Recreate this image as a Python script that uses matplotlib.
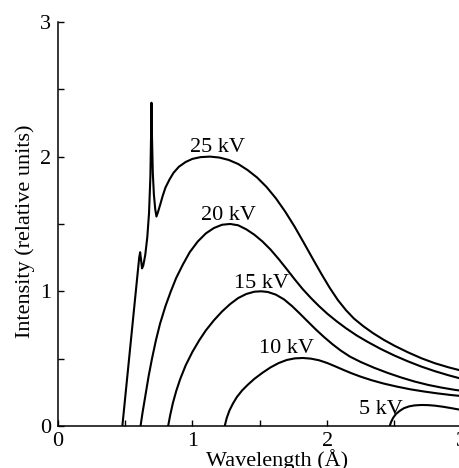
import matplotlib
matplotlib.use("Agg")
import matplotlib.pyplot as plt
from matplotlib.ticker import MultipleLocator

plt.rcParams['font.family'] = ['Liberation Serif', 'DejaVu Serif']

# ---- data ----
x25 = [0.48, 0.50, 0.53, 0.56, 0.59, 0.605, 0.612, 0.618, 0.626, 0.635, 0.65, 0.665,
       0.678, 0.688, 0.693, 0.696, 0.70, 0.706, 0.714, 0.724, 0.733, 0.745, 0.76,
       0.78, 0.80, 0.83, 0.86, 0.90, 0.95, 1.00, 1.06, 1.13, 1.20, 1.27, 1.34, 1.41,
       1.48, 1.55, 1.62, 1.69, 1.76, 1.83, 1.90, 1.96, 2.02, 2.08, 2.14, 2.20, 2.27,
       2.34, 2.42, 2.50, 2.60, 2.70, 2.80, 2.90, 3.00, 3.10, 3.25]
y25 = [0.0, 0.2, 0.5, 0.8, 1.1, 1.25, 1.29, 1.24, 1.17, 1.19, 1.27, 1.40,
       1.58, 1.85, 2.15, 2.40, 2.15, 1.88, 1.72, 1.61, 1.555, 1.59, 1.64,
       1.71, 1.77, 1.83, 1.88, 1.925, 1.96, 1.983, 1.996, 2.0, 1.993, 1.975, 1.945, 1.90,
       1.845, 1.775, 1.69, 1.59, 1.478, 1.355, 1.23, 1.125, 1.025, 0.935, 0.86, 0.797, 0.74,
       0.69, 0.64, 0.596, 0.547, 0.503, 0.466, 0.436, 0.41, 0.39, 0.37]

x20 = [0.615, 0.63, 0.65, 0.675, 0.70, 0.73, 0.76, 0.80, 0.84, 0.88, 0.93, 0.98, 1.04,
       1.10, 1.16, 1.22, 1.28, 1.34, 1.40, 1.46, 1.52, 1.58, 1.64, 1.70, 1.76, 1.82,
       1.88, 1.94, 2.00, 2.07, 2.14, 2.22, 2.30, 2.40, 2.50, 2.60, 2.70, 2.80, 2.90,
       3.00, 3.10, 3.25]
y20 = [0.0, 0.10, 0.22, 0.37, 0.50, 0.64, 0.76, 0.89, 1.00, 1.10, 1.20, 1.29, 1.37,
       1.43, 1.47, 1.494, 1.50, 1.49, 1.46, 1.42, 1.37, 1.31, 1.24, 1.165, 1.088, 1.015,
       0.95, 0.89, 0.835, 0.778, 0.726, 0.672, 0.625, 0.571, 0.523, 0.48, 0.441, 0.407, 0.377,
       0.35, 0.33, 0.31]

x15 = [0.82, 0.835, 0.855, 0.88, 0.91, 0.95, 1.00, 1.05, 1.10, 1.16, 1.22, 1.28, 1.34,
       1.40, 1.46, 1.51, 1.56, 1.62, 1.68, 1.74, 1.80, 1.86, 1.92, 1.98, 2.04, 2.10,
       2.17, 2.25, 2.35, 2.45, 2.55, 2.65, 2.75, 2.85, 2.95, 3.05, 3.25]
y15 = [0.0, 0.08, 0.17, 0.26, 0.35, 0.45, 0.55, 0.635, 0.71, 0.785, 0.85, 0.905, 0.95,
       0.98, 0.997, 1.0, 0.995, 0.975, 0.94, 0.89, 0.832, 0.772, 0.713, 0.658, 0.607, 0.561,
       0.515, 0.475, 0.432, 0.394, 0.36, 0.33, 0.305, 0.285, 0.268, 0.255, 0.235]

x10 = [1.24, 1.255, 1.275, 1.30, 1.33, 1.37, 1.41, 1.46, 1.52, 1.58, 1.64, 1.70, 1.76,
       1.82, 1.88, 1.94, 2.00, 2.06, 2.12, 2.18, 2.25, 2.33, 2.42, 2.52, 2.62, 2.72,
       2.82, 2.92, 3.02, 3.25]
y10 = [0.0, 0.06, 0.115, 0.165, 0.215, 0.265, 0.305, 0.35, 0.395, 0.435, 0.467, 0.49, 0.502,
       0.505, 0.50, 0.488, 0.468, 0.443, 0.417, 0.392, 0.366, 0.34, 0.315, 0.292, 0.272, 0.256,
       0.242, 0.23, 0.22, 0.2]

x5 = [2.465, 2.475, 2.49, 2.51, 2.54, 2.57, 2.61, 2.65, 2.70, 2.75, 2.80, 2.86, 2.92,
      2.98, 3.05, 3.25]
y5 = [0.0, 0.03, 0.06, 0.088, 0.113, 0.132, 0.146, 0.153, 0.156, 0.155, 0.151, 0.143, 0.133,
      0.122, 0.113, 0.095]

labels = ["25 kV", "20 kV", "15 kV", "10 kV", "5 kV"]
label_x = [1.19, 1.27, 1.51, 1.70, 2.40]
label_y = [2.036, 1.53, 1.022, 0.542, 0.089]

xticks = [0, 1, 2, 3]
yticks = [0, 1, 2, 3]

# ---- figure ----
W, H = 459, 468
fig = plt.figure(figsize=(W / 100, H / 100), dpi=100)
x0_px, y0_px = 57.7, 426.0
ppu = 134.7
xmax, ymax = 3.25, 3.0
ax = fig.add_axes([x0_px / W, (H - y0_px) / H, xmax * ppu / W, ymax * ppu / H])

for xs, ys in [(x25, y25), (x20, y20), (x15, y15), (x10, y10), (x5, y5)]:
    ax.plot(xs, ys, color='black', lw=1.5, solid_joinstyle='round', solid_capstyle='round')

for t, lx, ly in zip(labels, label_x, label_y):
    ax.text(lx, ly, t, ha='center', va='baseline', fontsize=16, color='black')

ax.set_xlim(0, xmax)
ax.set_ylim(0, ymax)
ax.set_xticks(xticks)
ax.set_yticks(yticks)
ax.xaxis.set_minor_locator(MultipleLocator(0.5))
ax.yaxis.set_minor_locator(MultipleLocator(0.5))
ax.tick_params(which='both', direction='in', length=4, width=1.0, labelsize=16, color='black')
ax.tick_params(axis='x', pad=4)
ax.tick_params(axis='y', pad=5)
for s in ['top', 'right']:
    ax.spines[s].set_visible(False)
for s in ['left', 'bottom']:
    ax.spines[s].set_linewidth(1.1)

ax.set_xlabel("Wavelength (Å)", fontsize=16)
ax.set_ylabel("Intensity (relative units)", fontsize=16)
ax.xaxis.set_label_coords(0.5, (y0_px - 449) / (ymax * ppu))
ax.yaxis.set_label_coords((35 - x0_px) / (xmax * ppu), (y0_px - 231.5) / (ymax * ppu))

fig.savefig("out.png", dpi=100)
